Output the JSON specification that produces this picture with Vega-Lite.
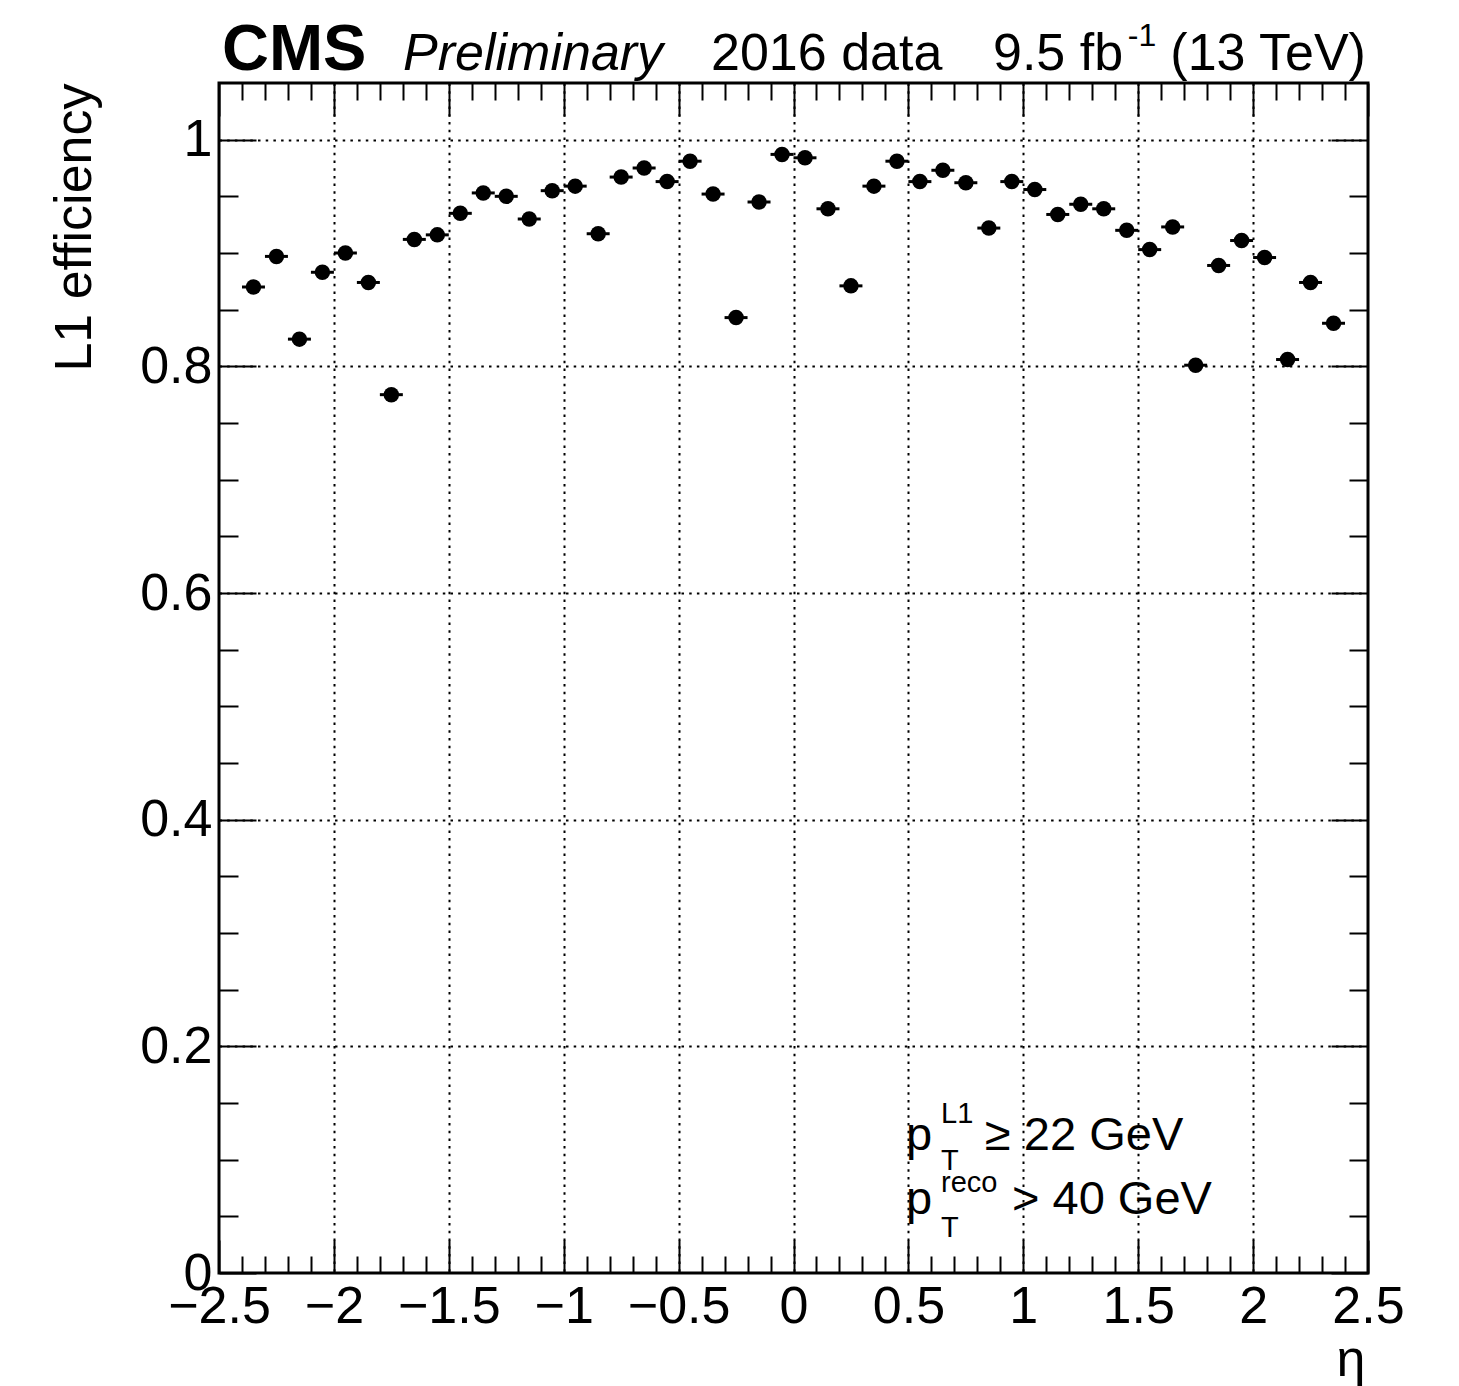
{
  "$schema": "https://vega.github.io/schema/vega-lite/v6.json",
  "width": 1149,
  "height": 1190,
  "autosize": {"type": "none"},
  "padding": {"left": 219, "top": 83, "right": 91, "bottom": 113},
  "background": "white",
  "config": {
    "font": "Liberation Sans",
    "view": {"stroke": "black", "strokeWidth": 3},
    "text": {"font": "Liberation Sans", "color": "black"}
  },
  "data": {
    "values": [
      {"eta": -2.35, "lo": -2.4, "hi": -2.3, "eff": 0.870},
      {"eta": -2.25, "lo": -2.3, "hi": -2.2, "eff": 0.897},
      {"eta": -2.15, "lo": -2.2, "hi": -2.1, "eff": 0.824},
      {"eta": -2.05, "lo": -2.1, "hi": -2.0, "eff": 0.883},
      {"eta": -1.95, "lo": -2.0, "hi": -1.9, "eff": 0.900},
      {"eta": -1.85, "lo": -1.9, "hi": -1.8, "eff": 0.874},
      {"eta": -1.75, "lo": -1.8, "hi": -1.7, "eff": 0.775},
      {"eta": -1.65, "lo": -1.7, "hi": -1.6, "eff": 0.912},
      {"eta": -1.55, "lo": -1.6, "hi": -1.5, "eff": 0.916},
      {"eta": -1.45, "lo": -1.5, "hi": -1.4, "eff": 0.935},
      {"eta": -1.35, "lo": -1.4, "hi": -1.3, "eff": 0.953},
      {"eta": -1.25, "lo": -1.3, "hi": -1.2, "eff": 0.950},
      {"eta": -1.15, "lo": -1.2, "hi": -1.1, "eff": 0.930},
      {"eta": -1.05, "lo": -1.1, "hi": -1.0, "eff": 0.955},
      {"eta": -0.95, "lo": -1.0, "hi": -0.9, "eff": 0.959},
      {"eta": -0.85, "lo": -0.9, "hi": -0.8, "eff": 0.917},
      {"eta": -0.75, "lo": -0.8, "hi": -0.7, "eff": 0.967},
      {"eta": -0.65, "lo": -0.7, "hi": -0.6, "eff": 0.975},
      {"eta": -0.55, "lo": -0.6, "hi": -0.5, "eff": 0.963},
      {"eta": -0.45, "lo": -0.5, "hi": -0.4, "eff": 0.981},
      {"eta": -0.35, "lo": -0.4, "hi": -0.3, "eff": 0.952},
      {"eta": -0.25, "lo": -0.3, "hi": -0.2, "eff": 0.843},
      {"eta": -0.15, "lo": -0.2, "hi": -0.1, "eff": 0.945},
      {"eta": -0.05, "lo": -0.1, "hi": 0.0, "eff": 0.987},
      {"eta": 0.05, "lo": 0.0, "hi": 0.1, "eff": 0.984},
      {"eta": 0.15, "lo": 0.1, "hi": 0.2, "eff": 0.939},
      {"eta": 0.25, "lo": 0.2, "hi": 0.3, "eff": 0.871},
      {"eta": 0.35, "lo": 0.3, "hi": 0.4, "eff": 0.959},
      {"eta": 0.45, "lo": 0.4, "hi": 0.5, "eff": 0.981},
      {"eta": 0.55, "lo": 0.5, "hi": 0.6, "eff": 0.963},
      {"eta": 0.65, "lo": 0.6, "hi": 0.7, "eff": 0.973},
      {"eta": 0.75, "lo": 0.7, "hi": 0.8, "eff": 0.962},
      {"eta": 0.85, "lo": 0.8, "hi": 0.9, "eff": 0.922},
      {"eta": 0.95, "lo": 0.9, "hi": 1.0, "eff": 0.963},
      {"eta": 1.05, "lo": 1.0, "hi": 1.1, "eff": 0.956},
      {"eta": 1.15, "lo": 1.1, "hi": 1.2, "eff": 0.934},
      {"eta": 1.25, "lo": 1.2, "hi": 1.3, "eff": 0.943},
      {"eta": 1.35, "lo": 1.3, "hi": 1.4, "eff": 0.939},
      {"eta": 1.45, "lo": 1.4, "hi": 1.5, "eff": 0.920},
      {"eta": 1.55, "lo": 1.5, "hi": 1.6, "eff": 0.903},
      {"eta": 1.65, "lo": 1.6, "hi": 1.7, "eff": 0.923},
      {"eta": 1.75, "lo": 1.7, "hi": 1.8, "eff": 0.801},
      {"eta": 1.85, "lo": 1.8, "hi": 1.9, "eff": 0.889},
      {"eta": 1.95, "lo": 1.9, "hi": 2.0, "eff": 0.911},
      {"eta": 2.05, "lo": 2.0, "hi": 2.1, "eff": 0.896},
      {"eta": 2.15, "lo": 2.1, "hi": 2.2, "eff": 0.806},
      {"eta": 2.25, "lo": 2.2, "hi": 2.3, "eff": 0.874},
      {"eta": 2.35, "lo": 2.3, "hi": 2.4, "eff": 0.838}
    ]
  },
  "layer": [
    {
      "mark": {"type": "rule", "color": "black", "strokeWidth": 3},
      "encoding": {
        "x": {
          "field": "lo", "type": "quantitative",
          "scale": {"domain": [-2.5, 2.5], "nice": false, "zero": false},
          "axis": {
            "orient": "bottom",
            "values": [-2.5,-2.4,-2.3,-2.2,-2.1,-2,-1.9,-1.8,-1.7,-1.6,-1.5,-1.4,-1.3,-1.2,-1.1,-1,-0.9,-0.8,-0.7,-0.6,-0.5,-0.4,-0.3,-0.2,-0.1,0,0.1,0.2,0.3,0.4,0.5,0.6,0.7,0.8,0.9,1,1.1,1.2,1.3,1.4,1.5,1.6,1.7,1.8,1.9,2,2.1,2.2,2.3,2.4,2.5],
            "format": "~g",
            "labelExpr": "abs(datum.value*2-round(datum.value*2))<0.001 ? datum.label : ''",
            "domain": false,
            "tickSize": {"condition": {"test": "abs(datum.value*2-round(datum.value*2))<0.001", "value": -33}, "value": -17},
            "tickColor": "black",
            "tickWidth": 2,
            "grid": true,
            "gridColor": "black",
            "gridWidth": 2,
            "gridDash": [2.5, 5.2],
            "gridOpacity": {"condition": {"test": "abs(datum.value*2-round(datum.value*2))<0.001 && abs(datum.value)<2.4", "value": 1}, "value": 0},
            "labelFont": "Liberation Sans",
            "labelFontSize": 52,
            "labelColor": "black",
            "labelPadding": 41,
            "labelOverlap": false,
            "labelFlush": false,
            "labelBound": false,
            "title": "η",
            "titleFont": "Liberation Sans",
            "titleFontSize": 52,
            "titleFontWeight": "normal",
            "titleColor": "black",
            "titleX": 1146,
            "titleY": 102,
            "titleAlign": "right",
            "titleBaseline": "alphabetic",
            "titleAngle": 0
          }
        },
        "x2": {"field": "hi"},
        "y": {
          "field": "eff", "type": "quantitative",
          "scale": {"domain": [0, 1.05], "nice": false, "zero": false},
          "axis": {
            "orient": "left",
            "values": [0,0.05,0.1,0.15,0.2,0.25,0.3,0.35,0.4,0.45,0.5,0.55,0.6,0.65,0.7,0.75,0.8,0.85,0.9,0.95,1],
            "format": "~g",
            "labelExpr": "abs(datum.value*5-round(datum.value*5))<0.001 ? datum.label : ''",
            "domain": false,
            "tickSize": {"condition": {"test": "abs(datum.value*5-round(datum.value*5))<0.001", "value": -37}, "value": -19},
            "tickColor": "black",
            "tickWidth": 2,
            "grid": true,
            "gridColor": "black",
            "gridWidth": 2,
            "gridDash": [2.5, 5.2],
            "gridOpacity": {"condition": {"test": "abs(datum.value*5-round(datum.value*5))<0.001 && datum.value>0.01", "value": 1}, "value": 0},
            "labelFont": "Liberation Sans",
            "labelFontSize": 52,
            "labelColor": "black",
            "labelPadding": 44,
            "labelOverlap": false,
            "labelFlush": false,
            "labelBound": false,
            "title": "L1 efficiency",
            "titleFont": "Liberation Sans",
            "titleFontSize": 52,
            "titleFontWeight": "normal",
            "titleColor": "black",
            "titleX": -129,
            "titleY": 0,
            "titleAngle": 270,
            "titleAlign": "right",
            "titleBaseline": "alphabetic"
          }
        }
      }
    },
    {
      "mark": {"type": "circle", "color": "black", "opacity": 1, "size": 240},
      "encoding": {
        "x": {
          "field": "eta", "type": "quantitative",
          "axis": {
            "orient": "top",
            "values": [-2.5,-2.4,-2.3,-2.2,-2.1,-2,-1.9,-1.8,-1.7,-1.6,-1.5,-1.4,-1.3,-1.2,-1.1,-1,-0.9,-0.8,-0.7,-0.6,-0.5,-0.4,-0.3,-0.2,-0.1,0,0.1,0.2,0.3,0.4,0.5,0.6,0.7,0.8,0.9,1,1.1,1.2,1.3,1.4,1.5,1.6,1.7,1.8,1.9,2,2.1,2.2,2.3,2.4,2.5],
            "labels": false,
            "domain": false,
            "grid": false,
            "tickSize": {"condition": {"test": "abs(datum.value*2-round(datum.value*2))<0.001", "value": -33}, "value": -17},
            "tickColor": "black",
            "tickWidth": 2,
            "title": null
          }
        },
        "y": {
          "field": "eff", "type": "quantitative",
          "axis": {
            "orient": "right",
            "values": [0,0.05,0.1,0.15,0.2,0.25,0.3,0.35,0.4,0.45,0.5,0.55,0.6,0.65,0.7,0.75,0.8,0.85,0.9,0.95,1],
            "labels": false,
            "domain": false,
            "grid": false,
            "tickSize": {"condition": {"test": "abs(datum.value*5-round(datum.value*5))<0.001", "value": -37}, "value": -19},
            "tickColor": "black",
            "tickWidth": 2,
            "title": null
          }
        }
      }
    },
    {
      "data": {"values": [{}]},
      "mark": {"type": "text", "text": "CMS", "fontSize": 65, "fontWeight": "bold", "align": "left", "baseline": "alphabetic"},
      "encoding": {"x": {"datum": -2.487, "type": "quantitative", "axis": null}, "y": {"datum": 1.0614, "type": "quantitative", "axis": null}}
    },
    {
      "data": {"values": [{}]},
      "mark": {"type": "text", "text": "Preliminary", "fontSize": 52, "fontStyle": "italic", "align": "left", "baseline": "alphabetic"},
      "encoding": {"x": {"datum": -1.699, "type": "quantitative", "axis": null}, "y": {"datum": 1.0614, "type": "quantitative", "axis": null}}
    },
    {
      "data": {"values": [{}]},
      "mark": {"type": "text", "text": "2016 data", "fontSize": 52, "align": "left", "baseline": "alphabetic"},
      "encoding": {"x": {"datum": -0.359, "type": "quantitative", "axis": null}, "y": {"datum": 1.0614, "type": "quantitative", "axis": null}}
    },
    {
      "data": {"values": [{}]},
      "mark": {"type": "text", "text": "9.5 fb", "fontSize": 52, "align": "left", "baseline": "alphabetic"},
      "encoding": {"x": {"datum": 0.868, "type": "quantitative", "axis": null}, "y": {"datum": 1.0614, "type": "quantitative", "axis": null}}
    },
    {
      "data": {"values": [{}]},
      "mark": {"type": "text", "text": "-1", "fontSize": 32, "align": "left", "baseline": "alphabetic"},
      "encoding": {"x": {"datum": 1.455, "type": "quantitative", "axis": null}, "y": {"datum": 1.083, "type": "quantitative", "axis": null}}
    },
    {
      "data": {"values": [{}]},
      "mark": {"type": "text", "text": "(13 TeV)", "fontSize": 52, "align": "right", "baseline": "alphabetic"},
      "encoding": {"x": {"datum": 2.491, "type": "quantitative", "axis": null}, "y": {"datum": 1.0614, "type": "quantitative", "axis": null}}
    },
    {
      "data": {"values": [{}]},
      "mark": {"type": "text", "text": "p", "fontSize": 47, "align": "left", "baseline": "alphabetic"},
      "encoding": {"x": {"datum": 0.4896, "type": "quantitative", "axis": null}, "y": {"datum": 0.1081, "type": "quantitative", "axis": null}}
    },
    {
      "data": {"values": [{}]},
      "mark": {"type": "text", "text": "L1", "fontSize": 29, "align": "left", "baseline": "alphabetic"},
      "encoding": {"x": {"datum": 0.642, "type": "quantitative", "axis": null}, "y": {"datum": 0.132, "type": "quantitative", "axis": null}}
    },
    {
      "data": {"values": [{}]},
      "mark": {"type": "text", "text": "T", "fontSize": 29, "align": "left", "baseline": "alphabetic"},
      "encoding": {"x": {"datum": 0.642, "type": "quantitative", "axis": null}, "y": {"datum": 0.0905, "type": "quantitative", "axis": null}}
    },
    {
      "data": {"values": [{}]},
      "mark": {"type": "text", "text": "≥ 22 GeV", "fontSize": 47, "align": "left", "baseline": "alphabetic"},
      "encoding": {"x": {"datum": 0.8333, "type": "quantitative", "axis": null}, "y": {"datum": 0.1081, "type": "quantitative", "axis": null}}
    },
    {
      "data": {"values": [{}]},
      "mark": {"type": "text", "text": "p", "fontSize": 47, "align": "left", "baseline": "alphabetic"},
      "encoding": {"x": {"datum": 0.4896, "type": "quantitative", "axis": null}, "y": {"datum": 0.0525, "type": "quantitative", "axis": null}}
    },
    {
      "data": {"values": [{}]},
      "mark": {"type": "text", "text": "reco", "fontSize": 29, "align": "left", "baseline": "alphabetic"},
      "encoding": {"x": {"datum": 0.642, "type": "quantitative", "axis": null}, "y": {"datum": 0.0715, "type": "quantitative", "axis": null}}
    },
    {
      "data": {"values": [{}]},
      "mark": {"type": "text", "text": "T", "fontSize": 29, "align": "left", "baseline": "alphabetic"},
      "encoding": {"x": {"datum": 0.642, "type": "quantitative", "axis": null}, "y": {"datum": 0.0318, "type": "quantitative", "axis": null}}
    },
    {
      "data": {"values": [{}]},
      "mark": {"type": "text", "text": "> 40 GeV", "fontSize": 47, "align": "left", "baseline": "alphabetic"},
      "encoding": {"x": {"datum": 0.9508, "type": "quantitative", "axis": null}, "y": {"datum": 0.0525, "type": "quantitative", "axis": null}}
    }
  ],
  "resolve": {"axis": {"x": "independent", "y": "independent"}}
}
